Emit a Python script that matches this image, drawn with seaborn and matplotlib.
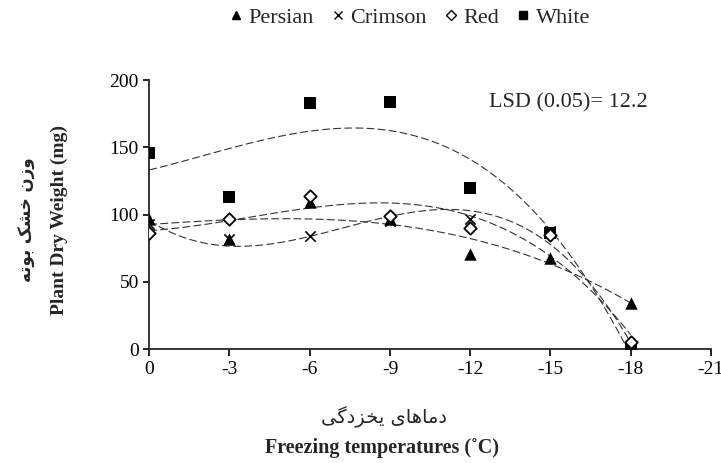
import numpy as np
import pandas as pd
import matplotlib
matplotlib.use("Agg")
import matplotlib.pyplot as plt
import seaborn as sns

# values
temps = [0, -3, -6, -9, -12, -15, -18]
persian = [97, 82, 109, 97, 71, 68, 34]
crimson = [93, 82, 84, 95, 97, 88, 1]
red = [86, 97, 114, 99, 90, 85, 5]
white = [146, 113, 183, 184, 120, 86, 0]
cultivars = ["Persian", "Crimson", "Red", "White"]
fit_order = 3

sns.set_style("ticks")
plt.rcParams["font.family"] = ["Liberation Serif", "DejaVu Sans"]
plt.rcParams["axes.unicode_minus"] = False

rows = []
for name, vals in zip(cultivars, [persian, crimson, red, white]):
    for t, v in zip(temps, vals):
        rows.append({"temp": t, "weight": v, "cultivar": name})
df = pd.DataFrame(rows)

# polynomial trend lines like the excel ones
xs = np.linspace(0, -18, 100)
fits = []
for name, vals in zip(cultivars, [persian, crimson, red, white]):
    coef = np.polyfit(temps, vals, fit_order)
    fits.append(pd.DataFrame({"temp": xs, "weight": np.polyval(coef, xs), "cultivar": name}))
fit_df = pd.concat(fits)

fig = plt.figure(figsize=(7.21, 4.63), dpi=100)
ax = fig.add_axes([0.207, 0.246, 0.779, 0.581])

for name in cultivars:
    sub = fit_df[fit_df.cultivar == name]
    ax.plot(sub.temp, sub.weight, color="#333333", lw=0.8, ls=(0, (7, 3)), zorder=1)

marker_kw = {
    "Persian": dict(marker="^", color="black", s=80, linewidth=0),
    "Crimson": dict(marker="x", color="black", s=55, linewidth=1.2),
    "Red": dict(marker="D", facecolor="white", edgecolor="black", s=40, linewidth=1.3),
    "White": dict(marker="s", color="black", s=80, linewidth=0),
}
for name in ["White", "Persian", "Crimson", "Red"]:
    sns.scatterplot(data=df[df.cultivar == name], x="temp", y="weight", ax=ax,
                    legend=False, zorder=3, **marker_kw[name])

ax.set_xlim(0, -21)
ax.set_ylim(0, 200)
ax.set_xticks(range(0, -22, -3))
ax.set_xticklabels([str(t) for t in range(0, -22, -3)])
ax.set_yticks(range(0, 201, 50))
ax.tick_params(labelsize=14, length=5, width=1.2, colors="black")
ax.tick_params(axis="y", length=4)
for s in ["top", "right"]:
    ax.spines[s].set_visible(False)
ax.spines["left"].set_linewidth(1.3)
ax.spines["bottom"].set_linewidth(1.3)
ax.set_xlabel("")
ax.set_ylabel("")

ax.text(-12.7, 183, "LSD (0.05)= 12.2", fontsize=16, va="center")

# Persian labels, pre-shaped in visual order
fa_y = "\uFEEA\uFE97\uFEEE\uFE91 \uFB8F\uFEB8\uFEA7 \uFEE5\uFEAF\uFEED"
fa_x = "\uFBFD\uFB94\uFEA9\uFEB0\uFEA8\uFBFE \uFBFC\uFE8E\uFEEB\uFE8E\uFEE3\uFEA9"
fig.text(0.037, 0.525, fa_y, rotation=90, ha="center", va="center", fontsize=12,
         fontweight="bold", family=["DejaVu Sans"])
fig.text(0.083, 0.525, "Plant Dry Weight (mg)", rotation=90, ha="center", va="center",
         fontsize=14, fontweight="bold")
fig.text(0.532, 0.10, fa_x, ha="center", va="center", fontsize=14, family=["DejaVu Sans"])
fig.text(0.53, 0.032, "Freezing temperatures (\u02daC)", ha="center", va="center",
         fontsize=14.5, fontweight="bold")

handles = [
    plt.Line2D([], [], ls="", marker="^", color="black", markersize=6),
    plt.Line2D([], [], ls="", marker="x", color="black", markersize=6),
    plt.Line2D([], [], ls="", marker="D", mfc="white", mec="black", markersize=5),
    plt.Line2D([], [], ls="", marker="s", color="black", markersize=6),
]
fig.legend(handles, cultivars, loc="center", bbox_to_anchor=(0.565, 0.962), ncol=4,
           frameon=False, fontsize=16, handletextpad=0.05, columnspacing=0.6,
           handlelength=1.0)

fig.savefig("out.png", dpi=100)
